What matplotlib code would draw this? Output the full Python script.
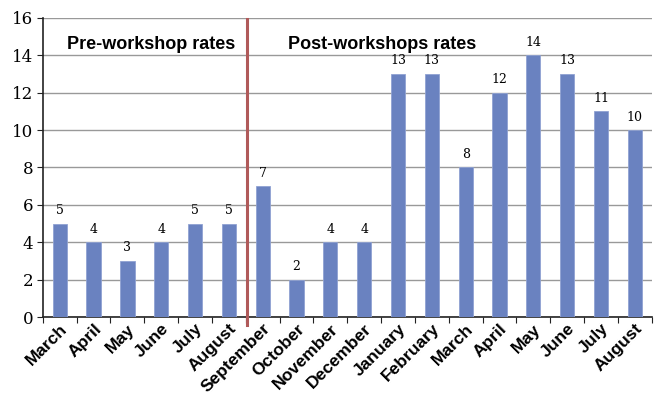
import matplotlib
matplotlib.use("Agg")
import matplotlib.pyplot as plt
import numpy as np

months = ["March", "April", "May", "June", "July", "August",
          "September", "October", "November", "December", "January",
          "February", "March", "April", "May", "June", "July", "August"]
rates = [5, 4, 3, 4, 5, 5, 7, 2, 4, 4, 13, 13, 8, 12, 14, 13, 11, 10]

fig = plt.figure(figsize=(6.59, 3.99), dpi=100)
ax = fig.add_axes([0.065, 0.2055, 0.924, 0.7495])

x = np.arange(len(months))
ax.bar(x, rates, width=0.42, color="#6a82c0", edgecolor="#90a2d2", linewidth=0.6, zorder=3)

for xi, v in zip(x, rates):
    ax.text(xi, v + 0.35, str(v), ha="center", va="bottom",
            family="DejaVu Serif", fontsize=9, zorder=4)

ax.set_xlim(-0.5, len(months) - 0.5)
ax.set_ylim(0, 16)
ax.set_yticks(range(0, 17, 2))
ax.yaxis.grid(True, color="#999999", linewidth=1.0, zorder=0)
ax.set_axisbelow(True)

# ticks sit between the categories, labels under the bars
ax.set_xticks(np.arange(-0.5, len(months), 1.0))
ax.set_xticklabels([])
ax.set_xticks(x, minor=True)
ax.set_xticklabels(months, minor=True, rotation=45, ha="right",
                   rotation_mode="anchor", fontweight="bold",
                   family="Liberation Sans", fontsize=12.5)
ax.tick_params(axis="x", which="minor", length=0, pad=3)
ax.tick_params(axis="x", which="major", length=4, direction="out", color="#222222")
ax.tick_params(axis="y", length=4, direction="out", color="#222222",
               labelsize=12, pad=3)
for lab in ax.get_yticklabels():
    lab.set_family("DejaVu Serif")

for side in ["top", "right"]:
    ax.spines[side].set_visible(False)
ax.spines["left"].set_color("#222222")
ax.spines["bottom"].set_color("#222222")
ax.spines["left"].set_linewidth(1.2)
ax.spines["bottom"].set_linewidth(1.2)

# divider between the two periods
ax.plot([5.55, 5.55], [-0.45, 15.95], color="#b05a5a", linewidth=2.2,
        clip_on=False, zorder=5)

ax.text(2.7, 14.6, "Pre-workshop rates", ha="center", va="center",
        fontweight="bold", family="Liberation Sans", fontsize=13)
ax.text(9.53, 14.6, "Post-workshops rates", ha="center", va="center",
        fontweight="bold", family="Liberation Sans", fontsize=13)

fig.savefig("out.png", dpi=100)
